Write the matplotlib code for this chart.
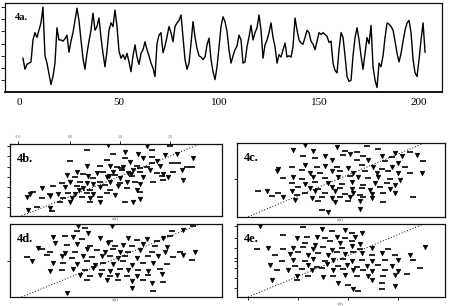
import matplotlib
matplotlib.use("Agg")
import matplotlib.pyplot as plt
import numpy as np

# ── Data ──────────────────────────────────────────────────────────────────────

# 4a: time series, t = 2 .. 203
T_START = 2
series = [
    2.8, 1.9, 2.3, 2.4, 2.5, 4.3, 4.9, 4.5, 5.1, 5.7,        # 2-11
    7.0, 3.0, 2.4, 1.5, 0.65, 1.3, 2.4, 5.3, 4.3, 4.3,       # 12-21
    4.2, 4.4, 4.7, 3.3, 4.2, 4.9, 5.9, 6.9, 5.9, 4.3,        # 22-31
    2.8, 1.9, 3.2, 4.2, 5.1, 6.5, 5.1, 5.4, 6.1, 4.5,        # 32-41
    3.2, 2.1, 3.4, 5.1, 5.7, 5.4, 6.75, 5.4, 3.4, 2.8,       # 42-51
    3.1, 2.7, 3.2, 2.5, 1.7, 3.0, 3.9, 2.9, 2.3, 3.2,        # 52-61
    3.5, 4.15, 3.5, 3.0, 2.4, 2.0, 1.3, 4.0, 4.7, 4.9,       # 62-71
    3.25, 3.8, 4.55, 5.4, 4.9, 4.15, 5.4, 5.7, 5.9, 6.35,    # 72-81
    4.55, 2.7, 1.9, 2.4, 4.0, 5.8, 4.55, 3.6, 3.0, 2.9,      # 82-91
    2.7, 2.9, 3.9, 4.45, 2.7, 1.7, 1.05, 2.1, 3.7, 5.4,      # 92-101
    6.2, 5.8, 5.0, 3.5, 2.4, 3.0, 3.5, 3.8, 4.7, 4.3,        # 102-111
    2.4, 2.5, 3.75, 4.55, 5.5, 4.3, 4.9, 5.3, 6.35, 5.1,     # 112-121
    2.8, 3.9, 4.3, 4.9, 5.7, 4.5, 3.75, 2.4, 3.1, 2.9,       # 122-131
    3.5, 4.05, 2.9, 3.0, 2.9, 3.75, 6.1, 5.1, 4.3, 4.05,     # 132-141
    3.95, 4.5, 5.1, 4.9, 4.2, 3.95, 3.5, 4.2, 4.9, 4.75,     # 142-151
    4.9, 4.75, 4.6, 4.1, 4.2, 2.4, 1.8, 1.6, 3.5, 4.9,       # 152-161
    4.5, 3.0, 1.3, 0.9, 1.0, 3.0, 4.5, 5.3, 4.3, 3.0,        # 162-171
    1.9, 3.2, 4.5, 4.0, 5.5, 2.1, 1.0, 0.4, 2.4, 2.1,        # 172-181
    3.0, 4.5, 5.7, 5.6, 5.4, 5.1, 4.2, 3.2, 2.5, 3.2,        # 182-191
    4.2, 5.1, 5.7, 5.9, 4.9, 2.7, 1.6, 1.3, 2.7, 4.3,        # 192-201
    5.7, 3.3,                                                 # 202-203
]
series_xticks = [0, 50, 100, 150, 200]

# 4b scatter
b_x = [4.38, 7.49, 6.31, 3.28, 5.22, 6.57, 5.89, 4.63, 7.24, 6.57, 7.83, 5.22,
       6.14, 4.29, 5.47, 2.44, 6.82, 7.58, 8.67, 7.91, 3.28, 3.96, 4.46, 4.80,
       5.13, 5.81, 5.64, 6.31, 6.99, 8.33, 2.78, 3.11, 3.79, 4.12, 4.63, 5.05,
       5.39, 5.98, 6.48, 6.82, 7.15, 7.66, 8.08, 8.59, 2.27, 2.69, 3.37, 3.62,
       4.29, 4.71, 4.97, 5.56, 6.14, 7.07, 7.41, 7.15, 8.16, 2.02, 2.44, 2.95,
       3.28, 3.96, 4.46, 4.97, 5.30, 5.72, 5.98, 6.65, 1.01, 1.60, 2.19, 2.78,
       3.11, 3.45, 3.96, 4.46, 4.88, 5.30, 5.81, 0.59, 0.42, 1.43, 1.85, 2.36,
       2.69, 3.28, 3.62, 4.29, 4.71, 5.98, 0.25, 1.01, 1.43, 2.10, 2.53, 3.03,
       3.45, 3.96, 5.98, 1.94, 2.44, 3.45, 3.96, 5.22, 5.64, 0.76, 1.43, 1.52,
       0.34, 5.00, 5.50, 6.00, 4.40, 6.60, 3.60, 4.20, 2.90]
b_y = [8.9, 8.75, 8.7, 8.2, 8.0, 8.2, 7.75, 7.75, 7.6, 7.4, 7.75, 7.2,
       7.2, 7.0, 6.8, 6.9, 6.9, 6.6, 7.3, 6.6, 6.2, 6.2, 6.25, 6.1,
       6.1, 6.2, 5.8, 6.1, 6.25, 6.1, 5.55, 5.3, 5.4, 5.55, 5.55, 5.75,
       5.4, 5.55, 5.7, 5.4, 5.3, 5.55, 5.75, 6.1, 5.1, 4.9, 5.0, 4.7,
       4.9, 5.1, 4.8, 5.0, 4.9, 5.0, 4.9, 4.5, 4.5, 4.1, 4.2, 4.3,
       4.1, 4.2, 4.3, 4.1, 4.3, 4.2, 4.0, 4.2, 3.5, 3.7, 3.6, 3.75,
       3.5, 3.3, 3.6, 3.3, 3.7, 3.5, 3.25, 3.0, 2.8, 2.75, 2.8, 2.9,
       2.8, 2.9, 2.75, 2.9, 2.6, 3.0, 2.4, 2.2, 2.5, 2.2, 2.2, 2.4,
       2.2, 2.4, 2.1, 1.8, 1.8, 1.8, 1.7, 1.8, 1.7, 1.1, 0.95, 0.65,
       0.75, 6.0, 5.3, 6.0, 5.0, 6.6, 4.0, 3.9, 3.2]

# 4c scatter
c_x = [2.91, 6.08, 4.54, 6.68, 2.32, 4.97, 3.34, 5.56, 7.53, 8.30, 8.64, 2.83,
       3.94, 4.88, 5.22, 5.91, 6.85, 7.36, 7.87, 3.43, 4.28, 5.56, 6.16, 7.02,
       7.70, 8.98, 1.55, 2.23, 2.91, 3.51, 3.94, 4.54, 5.14, 5.82, 6.42, 6.85,
       7.36, 8.04, 1.46, 2.74, 3.17, 3.68, 4.28, 4.71, 5.39, 5.99, 6.59, 7.19,
       7.70, 8.30, 8.90, 1.80, 2.32, 2.74, 3.34, 3.94, 4.62, 5.22, 5.65, 6.16,
       6.68, 7.27, 7.79, 2.23, 2.91, 3.43, 4.11, 4.79, 5.31, 5.91, 6.50, 7.10,
       7.53, 2.57, 3.17, 3.60, 4.28, 4.71, 5.31, 5.82, 6.25, 6.76, 7.27, 0.52,
       0.95, 1.55, 2.23, 2.91, 3.43, 3.94, 4.45, 4.97, 5.39, 5.74, 6.33, 6.93,
       7.53, 1.21, 1.80, 2.49, 3.26, 3.77, 4.28, 4.71, 5.22, 5.91, 6.33, 8.47,
       2.40, 3.60, 4.45, 5.14, 5.74, 6.93, 5.74, 3.77, 4.11]
c_y = [8.8, 8.7, 8.6, 8.3, 8.2, 8.1, 8.0, 7.9, 7.8, 7.9, 7.6, 7.5,
       7.4, 7.6, 7.7, 7.5, 7.4, 7.3, 7.4, 7.2, 7.0, 6.9, 7.0, 6.8,
       6.6, 6.8, 5.8, 6.15, 6.35, 6.05, 6.2, 6.15, 5.95, 6.35, 6.05, 5.8,
       6.05, 6.15, 5.65, 5.75, 5.4, 5.3, 5.55, 5.65, 5.4, 5.55, 5.4, 5.55,
       5.4, 5.4, 5.4, 4.7, 4.9, 4.6, 4.85, 4.7, 4.9, 5.0, 4.85, 4.7,
       4.9, 4.6, 4.5, 4.1, 4.0, 4.2, 4.1, 4.0, 4.2, 3.9, 4.1, 4.1,
       3.9, 3.6, 3.5, 3.35, 3.6, 3.5, 3.35, 3.5, 3.3, 3.6, 3.35, 3.1,
       3.2, 2.95, 3.1, 2.9, 3.1, 2.95, 3.1, 2.8, 2.95, 2.65, 2.8, 2.9,
       2.95, 2.55, 2.45, 2.65, 2.25, 2.45, 2.25, 2.45, 2.4, 2.45, 2.25, 2.45,
       2.05, 1.95, 1.85, 1.95, 1.95, 1.85, 1.0, 0.8, 0.6]

# 4d scatter
d_x = [2.86, 3.20, 4.55, 2.78, 3.37, 7.58, 8.16, 8.67, 1.60, 2.19, 2.61, 3.03,
       3.96, 4.46, 5.39, 5.81, 6.31, 6.82, 7.15, 7.49, 0.84, 1.01, 1.68, 2.27,
       2.78, 3.45, 4.38, 4.71, 5.13, 5.56, 6.14, 6.73, 7.32, 1.43, 2.19, 2.69,
       3.28, 3.79, 4.21, 4.63, 4.97, 5.39, 5.98, 6.57, 7.24, 8.00, 8.75, 0.25,
       0.51, 1.26, 2.02, 2.53, 3.11, 3.54, 4.04, 4.46, 4.88, 5.22, 5.81, 6.40,
       6.90, 7.66, 8.16, 8.59, 1.60, 2.10, 2.78, 3.28, 3.70, 4.12, 4.63, 5.13,
       5.56, 6.14, 6.65, 7.32, 1.43, 2.02, 2.61, 3.20, 3.62, 4.04, 4.46, 4.97,
       5.39, 5.89, 6.40, 6.99, 2.95, 3.45, 3.96, 4.46, 4.80, 5.30, 5.81, 6.40,
       7.07, 3.28, 4.29, 4.88, 5.56, 6.14, 6.57, 7.15, 5.56, 6.65, 2.27]
d_y = [8.7, 8.5, 8.7, 8.1, 7.9, 8.1, 8.2, 8.7, 7.45, 7.5, 7.4, 7.1,
       7.25, 6.95, 7.25, 7.05, 7.1, 6.95, 7.25, 7.5, 6.0, 5.9, 6.65, 6.45,
       6.55, 6.3, 6.65, 6.3, 6.45, 6.25, 6.55, 6.3, 6.15, 5.5, 5.4, 5.6,
       5.9, 5.75, 5.6, 5.9, 5.6, 5.5, 5.75, 5.5, 5.6, 5.5, 5.6, 4.9,
       4.4, 5.2, 5.0, 4.8, 5.1, 4.9, 5.0, 5.1, 4.8, 5.0, 4.8, 5.0,
       5.1, 4.9, 5.2, 4.6, 4.2, 4.25, 4.1, 4.4, 4.0, 4.25, 4.1, 4.4,
       4.0, 4.2, 4.25, 4.1, 3.15, 3.35, 3.45, 3.3, 3.55, 3.35, 3.15, 3.45,
       3.3, 3.35, 3.15, 3.45, 2.75, 2.6, 2.75, 2.55, 2.75, 2.6, 2.55, 2.75,
       2.85, 2.05, 2.15, 2.05, 1.95, 2.05, 1.7, 1.8, 1.1, 0.7, 0.5]

# 4e scatter
e_x = [0.61, 2.83, 3.77, 4.28, 4.97, 5.31, 5.82, 1.80, 2.49, 3.00, 3.51, 3.94,
       4.54, 4.97, 5.48, 2.91, 3.43, 4.20, 4.71, 5.31, 5.74, 0.44, 1.03, 1.80,
       2.32, 2.83, 3.34, 3.85, 4.28, 4.79, 5.31, 5.74, 6.33, 7.19, 9.07, 1.38,
       2.15, 2.57, 3.09, 3.60, 4.11, 4.54, 4.97, 5.39, 5.82, 6.33, 6.85, 7.53,
       8.30, 1.72, 2.32, 2.91, 3.34, 3.94, 4.37, 4.88, 5.31, 5.82, 6.33, 7.02,
       7.70, 8.47, 1.12, 2.40, 3.09, 3.51, 4.03, 4.62, 5.05, 5.56, 6.08, 6.68,
       7.36, 1.46, 2.06, 2.74, 3.26, 3.77, 4.37, 4.88, 5.39, 5.91, 6.33, 7.02,
       7.70, 8.81, 2.49, 3.09, 3.85, 4.37, 4.97, 5.56, 6.16, 6.93, 7.53, 8.13,
       1.21, 2.49, 4.62, 5.14, 6.33, 6.85, 7.53, 5.65, 5.39, 6.85]
e_y = [8.7, 8.6, 8.35, 8.1, 8.2, 7.95, 7.95, 7.65, 7.25, 7.4, 7.45, 7.25,
       7.45, 7.25, 7.4, 6.65, 6.45, 6.85, 6.65, 6.85, 6.55, 5.9, 6.0, 5.9,
       6.0, 6.15, 5.9, 6.15, 5.8, 6.0, 6.25, 5.9, 6.0, 5.9, 6.15, 5.2,
       5.3, 5.5, 5.2, 5.4, 5.2, 5.5, 5.3, 5.5, 5.4, 5.2, 5.4, 5.2,
       5.2, 4.4, 4.6, 4.4, 4.65, 4.4, 4.6, 4.65, 4.4, 4.6, 4.4, 4.5,
       4.6, 4.5, 4.0, 3.85, 4.0, 3.75, 4.1, 3.85, 4.0, 3.75, 3.85, 4.0,
       3.85, 3.3, 3.3, 3.45, 3.35, 3.55, 3.3, 3.45, 3.3, 3.35, 3.15, 3.3,
       3.15, 3.55, 2.55, 2.6, 2.45, 2.6, 2.75, 2.55, 2.6, 2.55, 2.75, 2.85,
       2.05, 2.15, 1.7, 1.5, 2.05, 1.7, 1.4, 0.7, 1.0, 1.0]

# ── Style ─────────────────────────────────────────────────────────────────────

SERIF = ["Liberation Serif", "DejaVu Serif"]
plt.rcParams["font.family"] = SERIF

SC_XLIM = (-0.59, 10.1)
SC_YLIM = (0.0, 9.0)


def _frame(ax):
    for sp in ax.spines.values():
        sp.set_linewidth(0.9)
        sp.set_color("#111111")


def _scatter(ax, xs, ys, label):
    xs = np.asarray(xs)
    ys = np.asarray(ys)
    # mix of small down-triangles and dashes, as in the scan
    ax.plot(xs[0::2], ys[0::2], "v", color="black", markersize=3.2,
            markeredgewidth=0.5, linestyle="none")
    ax.plot(xs[1::2], ys[1::2], "_", color="black", markersize=4.5,
            markeredgewidth=1.2, linestyle="none")
    ax.axline((0, 0), slope=1, color="black", linestyle=(0, (1, 2)),
              linewidth=0.7)
    ax.set_xlim(*SC_XLIM)
    ax.set_ylim(*SC_YLIM)
    ax.set_xticks([])
    ax.set_yticks([])
    ax.text(0.035, 0.88, label, transform=ax.transAxes, fontsize=9,
            fontweight="bold", va="top", ha="left")
    ax.set_xlabel("x(t)", fontsize=3.5, color="#555555", labelpad=1)
    _frame(ax)


fig = plt.figure(figsize=(4.52, 3.06), dpi=100)

# ── 4a time series ────────────────────────────────────────────────────────────
ax_a = fig.add_axes([0.011, 0.698, 0.967, 0.291])
t = np.arange(T_START, T_START + len(series))
ax_a.plot(t, series, color="black", linewidth=1.0)
ax_a.set_xlim(-7, 211.5)
ax_a.set_ylim(0.0, 7.3)
ax_a.set_yticks(range(1, 8))
ax_a.set_yticklabels([])
ax_a.tick_params(axis="y", direction="out", length=3, width=0.6)
ax_a.set_xticks(series_xticks)
ax_a.set_xticklabels([str(v) for v in series_xticks], fontsize=8)
ax_a.tick_params(axis="x", length=0, pad=4)
ax_a.text(0.023, 0.89, "4a.", transform=ax_a.transAxes, fontsize=7.5,
          fontweight="bold", va="top", ha="left")
_frame(ax_a)
ax_a.spines["bottom"].set_linewidth(1.4)

# ── scatter panels ────────────────────────────────────────────────────────────
ax_b = fig.add_axes([0.022, 0.2941, 0.4684, 0.2353])
ax_c = fig.add_axes([0.5237, 0.2918, 0.4608, 0.2399])
ax_d = fig.add_axes([0.022, 0.0294, 0.4684, 0.2386])
ax_e = fig.add_axes([0.5237, 0.0294, 0.4608, 0.2386])

_scatter(ax_b, b_x, b_y, "4b.")
_scatter(ax_c, c_x, c_y, "4c.")
_scatter(ax_d, d_x, d_y, "4d.")
_scatter(ax_e, e_x, e_y, "4e.")

# 4b: ticks on left and top (tiny labels on top)
b_top = [-0.17, 2.44, 4.97, 7.49]
ax_b.set_yticks(np.arange(1.1, 9.0, 1.27))
ax_b.tick_params(axis="y", direction="out", length=2.5, width=0.6,
                 labelleft=False)
ax_b.xaxis.set_ticks_position("top")
ax_b.set_xticks(b_top)
ax_b.set_xticklabels(["-1.0", "0.0", "1.0", "2.0"], fontsize=3, color="#666666")
ax_b.tick_params(axis="x", direction="out", length=2.5, width=0.6, pad=1)
ax_b.xaxis.set_label_position("bottom")

# 4c / 4d: one left tick each
ax_c.set_yticks([4.6])
ax_c.tick_params(axis="y", direction="out", length=2.5, width=0.6,
                 labelleft=False)
ax_d.set_yticks([4.4])
ax_d.tick_params(axis="y", direction="out", length=2.5, width=0.6,
                 labelleft=False)

# 4e: ticks on right and bottom, plus one on the left
ax_e.set_yticks([8.7, 7.25, 6.0, 4.8, 3.55, 2.35, 1.1])
ax_e.tick_params(axis="y", direction="out", length=2.5, width=0.6,
                 left=False, right=True, labelleft=False)
ax_e2 = ax_e.twinx()
ax_e2.set_ylim(*SC_YLIM)
ax_e2.set_yticks([4.4])
ax_e2.yaxis.set_ticks_position("left")
ax_e2.tick_params(axis="y", direction="out", length=2.5, width=0.6,
                  labelleft=False, labelright=False)
for sp in ax_e2.spines.values():
    sp.set_visible(False)
ax_e.set_xticks([0.01, 2.57, 5.14, 7.7])
ax_e.tick_params(axis="x", direction="out", length=2.5, width=0.6,
                 labelbottom=False)

fig.savefig("out.png", dpi=100)
